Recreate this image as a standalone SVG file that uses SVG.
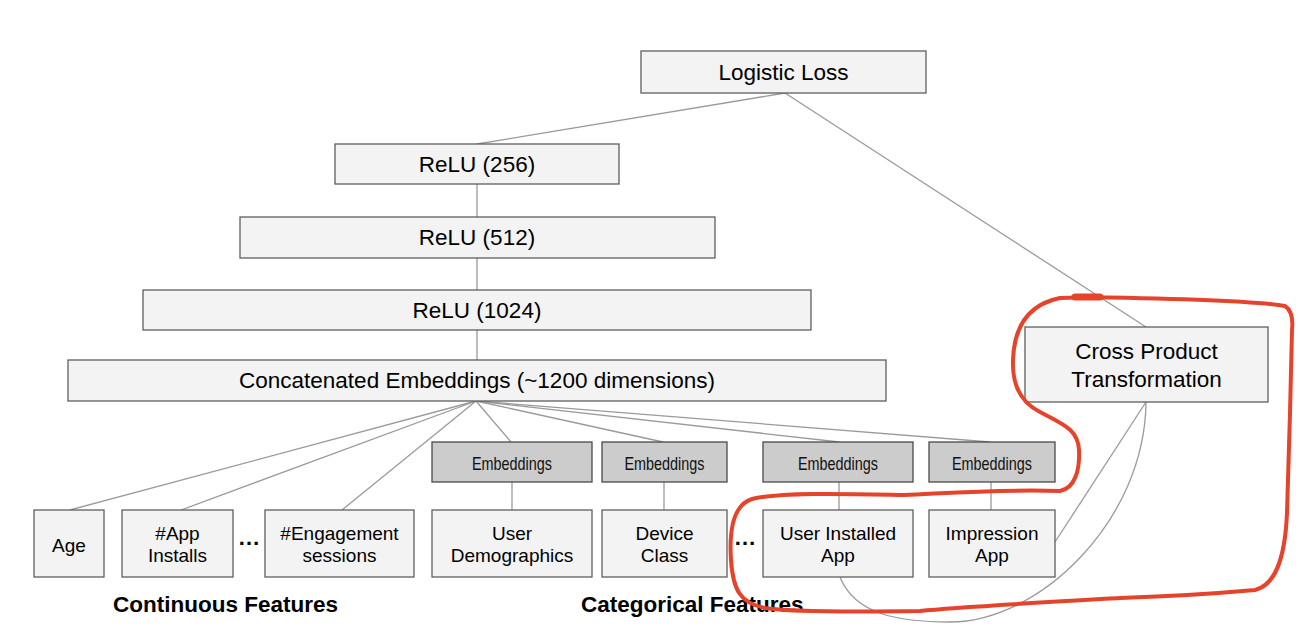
<svg xmlns="http://www.w3.org/2000/svg" width="1310" height="640" viewBox="0 0 1310 640">
<style>
.box{fill:#f3f3f3;stroke:#5f5f5f;stroke-width:1.3}
.emb{fill:#cccccc;stroke:#4a4a4a;stroke-width:1.3}
.t{font-family:"Liberation Sans",Arial,sans-serif;fill:#000;text-anchor:middle;dominant-baseline:central}
.big{font-size:22.5px}
.mid{font-size:19px}
.et{font-family:"Liberation Sans Narrow","Liberation Sans",Arial,sans-serif;font-size:18.5px;fill:#111;text-anchor:middle;dominant-baseline:central}
.lbl{font-family:"Liberation Sans",Arial,sans-serif;font-weight:bold;font-size:22.5px;fill:#000}
.c{fill:none;stroke:#9a9a9a;stroke-width:1.3}
</style>
<rect width="1310" height="640" fill="#fff"/>
<g id="connectors">
<line class="c" x1="785" y1="93" x2="477" y2="144"/>
<line class="c" x1="785" y1="93" x2="1146" y2="327"/>
<line class="c" x1="477" y1="184" x2="477" y2="217"/>
<line class="c" x1="477" y1="258" x2="477" y2="290"/>
<line class="c" x1="477" y1="330" x2="477" y2="360"/>
<line class="c" x1="476" y1="401" x2="70" y2="510"/>
<line class="c" x1="476" y1="401" x2="181" y2="510"/>
<line class="c" x1="476" y1="401" x2="342" y2="510"/>
<line class="c" x1="476" y1="401" x2="511" y2="442"/>
<line class="c" x1="476" y1="401" x2="663" y2="442"/>
<line class="c" x1="476" y1="401" x2="839" y2="442"/>
<line class="c" x1="476" y1="401" x2="990" y2="442"/>
<line class="c" x1="512" y1="482" x2="512" y2="510"/>
<line class="c" x1="664" y1="482" x2="664" y2="510"/>
<line class="c" x1="839" y1="482" x2="839" y2="510"/>
<line class="c" x1="991" y1="482" x2="991" y2="510"/>
<line class="c" x1="1146" y1="402" x2="1055" y2="542"/>
<path class="c" d="M 840 577 C 855 615, 900 622, 950 622 C 1040 622, 1145 520, 1146 402"/>
</g>
<g id="logistic-loss"><rect class="box" x="641" y="51" width="285" height="42"/><text class="t big" x="783.5" y="72">Logistic Loss</text></g>
<g id="relu-256"><rect class="box" x="335" y="144" width="284" height="40"/><text class="t big" x="477" y="164">ReLU (256)</text></g>
<g id="relu-512"><rect class="box" x="240" y="217" width="475" height="41"/><text class="t big" x="477" y="237.5">ReLU (512)</text></g>
<g id="relu-1024"><rect class="box" x="143" y="290" width="668" height="40"/><text class="t big" x="477" y="310">ReLU (1024)</text></g>
<g id="concat"><rect class="box" x="68" y="360" width="818" height="41"/><text class="t big" x="477" y="380.5">Concatenated Embeddings (~1200 dimensions)</text></g>
<g id="cross-product"><rect class="box" x="1025" y="327" width="243" height="75"/><text class="t big" x="1146.5" y="351">Cross Product</text><text class="t big" x="1146.5" y="379">Transformation</text></g>
<g id="emb-1"><rect class="emb" x="432" y="442" width="160" height="40"/><text class="et" x="512" y="463" textLength="80" lengthAdjust="spacingAndGlyphs">Embeddings</text></g>
<g id="emb-2"><rect class="emb" x="602" y="442" width="125" height="40"/><text class="et" x="664.5" y="463" textLength="80" lengthAdjust="spacingAndGlyphs">Embeddings</text></g>
<g id="emb-3"><rect class="emb" x="763" y="442" width="150" height="40"/><text class="et" x="838" y="463" textLength="80" lengthAdjust="spacingAndGlyphs">Embeddings</text></g>
<g id="emb-4"><rect class="emb" x="929" y="442" width="126" height="40"/><text class="et" x="992" y="463" textLength="80" lengthAdjust="spacingAndGlyphs">Embeddings</text></g>
<g id="age"><rect class="box" x="34" y="510" width="70" height="67"/><text class="t mid" x="69" y="545">Age</text></g>
<g id="app-installs"><rect class="box" x="122" y="510" width="111" height="67"/><text class="t mid" x="177.5" y="533">#App</text><text class="t mid" x="177.5" y="555">Installs</text></g>
<g id="engagement"><rect class="box" x="265" y="510" width="149" height="67"/><text class="t mid" x="339.5" y="533">#Engagement</text><text class="t mid" x="339.5" y="555">sessions</text></g>
<g id="user-demographics"><rect class="box" x="432" y="510" width="160" height="67"/><text class="t mid" x="512" y="533">User</text><text class="t mid" x="512" y="555">Demographics</text></g>
<g id="device-class"><rect class="box" x="602" y="510" width="125" height="67"/><text class="t mid" x="664.5" y="533">Device</text><text class="t mid" x="664.5" y="555">Class</text></g>
<g id="user-installed-app"><rect class="box" x="763" y="510" width="150" height="67"/><text class="t mid" x="838" y="533">User Installed</text><text class="t mid" x="838" y="555">App</text></g>
<g id="impression-app"><rect class="box" x="929" y="510" width="126" height="67"/><text class="t mid" x="992" y="533">Impression</text><text class="t mid" x="992" y="555">App</text></g>
<text class="lbl" x="249" y="545" text-anchor="middle">…</text>
<text class="lbl" x="745" y="545" text-anchor="middle">…</text>
<text class="lbl" x="113" y="612">Continuous Features</text>
<text class="lbl" x="581" y="612">Categorical Features</text>
<g id="annotation" fill="none" stroke="#e5432b" stroke-linecap="round" stroke-linejoin="round">
<path stroke-width="4" d="M 1073 297 C 1150 298, 1250 300, 1285 306 Q 1294 312, 1292 330 L 1290 413 L 1287 513 C 1285 560, 1275 585, 1255 590 C 1200 595, 1150 597, 1120 598 C 1050 602, 960 607, 920 611 C 850 612, 790 612, 765 608 C 740 603, 733 590, 731 560 C 729 530, 733 505, 752 499 C 780 492, 850 494, 904 495 C 950 493, 1000 489, 1060 491 C 1075 488, 1080 470, 1079 450 C 1078 430, 1065 425, 1040 412 C 1020 402, 1012 385, 1013 360 C 1014 330, 1025 305, 1060 298 L 1100 297"/>
<path stroke-width="7" d="M 1075 297 L 1100 297"/>
</g>
</svg>
